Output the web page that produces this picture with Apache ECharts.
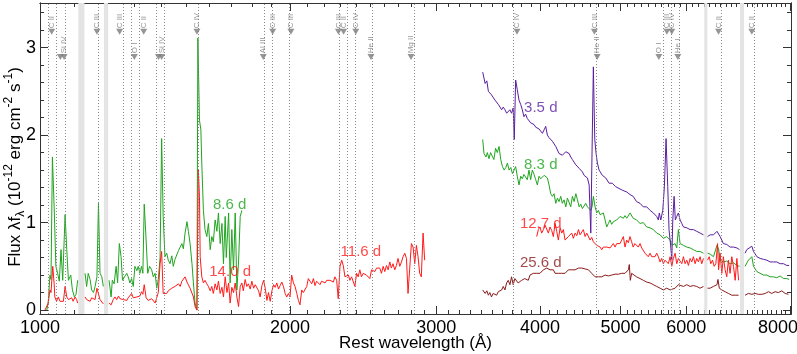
<!DOCTYPE html>
<html>
<head>
<meta charset="utf-8">
<script src="https://cdn.jsdelivr.net/npm/echarts@6/dist/echarts.min.js"></script>
<style>
html, body { margin: 0; padding: 0; background: #fff; }
#chart { width: 797px; height: 354px; }
</style>
</head>
<body>
<div id="chart"></div>
<script>
// spectra: [rest wavelength (A), flux in 1e-12 erg/cm2/s], null = masked
var uv86 = [[1019,0],[1023,0.08],[1028,0.40],[1031,0.35],[1035,1.75],[1040,1.18],[1045,0.50],[1050,0.42],[1055,0.33],[1060,0.69],[1065,0.34],[1072,1.09],[1077,0.69],[1082,0.34],[1089,0.40],[1094,0.23],[1100,0.15],[1105,0.18],[1110,0.34],[1120,null],
  [1133,0.42],[1138,0.27],[1143,0.42],[1149,0.35],[1154,0.23],[1160,0.20],[1165,0.27],[1171,0.38],[1176,1.22],[1181,0.42],[1187,0.38],[1192,0.27],[1200,null],
  [1211,0.34],[1218,0.15],[1222,0.34],[1228,0.30],[1235,0.50],[1240,0.31],[1246,0.76],[1252,0.61],[1257,0.34],[1264,0.38],[1272,0.42],[1277,0.38],[1283,0.31],[1289,0.36],[1295,0.27],[1301,0.50],[1308,0.45],[1313,0.50],[1319,0.42],[1325,0.50],[1330,0.42],[1335,1.21],[1342,0.80],[1348,0.42],[1355,0.50],[1363,0.46],[1369,0.38],[1376,0.42],[1382,0.25],[1388,0.35],[1395,0.60],[1401,1.96],[1407,1.07],[1414,0.61],[1421,0.65],[1427,0.57],[1434,0.53],[1441,0.62],[1447,0.50],[1454,0.58],[1461,0.60],[1468,0.68],[1475,0.72],[1482,0.76],[1488,0.70],[1495,0.88],[1503,1.01],[1509,0.90],[1516,0.76],[1524,0.53],[1530,0.31],[1537,0.08],[1545,0],
  [1549,3.11],[1556,2.17],[1562,2.06],[1566,1.68],[1573,1.14],[1580,0.92],[1588,0.84],[1595,0.99],[1603,0.69],[1610,0.84],[1617,0.78],[1625,1.03],[1633,0.90],[1640,1.11],[1648,0.76],[1656,0.99],[1663,0.53],[1671,1.07],[1676,0.60],[1682,0.88],[1687,1.11],[1694,0.31],[1702,0.92],[1710,0.46],[1718,1.11],[1726,0.23],[1734,0.55],[1742,1.07],[1750,1.14]];

var uv140 = [[1014,0],[1023,0.08],[1028,0.23],[1031,0.20],[1036,0.50],[1040,0.30],[1042,0.15],[1047,0.10],[1052,0.15],[1057,0.10],[1062,0.12],[1067,0.10],[1072,0.27],[1077,0.15],[1082,0.12],[1087,0.10],[1092,0.14],[1096,0.10],[1102,0.15],[1107,0.12],[1110,0.08],[1120,null],
  [1133,0.15],[1138,0.12],[1143,0.13],[1149,0.10],[1154,0.14],[1160,0.12],[1165,0.12],[1171,0.25],[1176,0.27],[1181,0.12],[1187,0.10],[1192,0.07],[1200,null],
  [1211,0.08],[1218,0.06],[1225,0.12],[1231,0.15],[1237,0.12],[1243,0.16],[1248,0.13],[1254,0.15],[1260,0.12],[1266,0.14],[1272,0.11],[1277,0.14],[1283,0.12],[1289,0.19],[1295,0.14],[1301,0.12],[1308,0.15],[1313,0.13],[1319,0.16],[1325,0.21],[1330,0.18],[1335,0.29],[1342,0.14],[1350,0.11],[1356,0.10],[1363,0.13],[1369,0.15],[1376,0.08],[1382,0.10],[1388,0.20],[1395,0.53],[1401,0.67],[1407,0.19],[1414,0.20],[1421,0.19],[1427,0.22],[1434,0.20],[1441,0.25],[1447,0.23],[1454,0.27],[1461,0.25],[1468,0.30],[1475,0.27],[1482,0.33],[1488,0.31],[1495,0.38],[1503,0.32],[1509,0.31],[1516,0.25],[1524,0.27],[1530,0.15],[1537,0.04],[1545,0],
  [1551,1.61],[1556,1.30],[1559,0.61],[1566,0.38],[1573,0.31],[1580,0.34],[1588,0.30],[1595,0.27],[1603,0.22],[1610,0.27],[1617,0.19],[1625,0.30],[1633,0.23],[1640,0.33],[1648,0.19],[1656,0.26],[1663,0.15],[1671,0.38],[1679,0.20],[1687,0.31],[1694,0.08],[1702,0.26],[1710,0.20],[1718,0.31],[1726,0.15],[1734,0.04],[1742,0.27],[1750,0.31]];

var uv116 = [[1750,0.31],[1757,0.22],[1766,0.35],[1774,0.27],[1782,0.30],[1791,0.24],[1799,0.33],[1808,0.25],[1816,0.29],[1824,0.31],[1833,0.22],[1841,0.15],[1850,0.28],[1859,0.34],[1867,0.25],[1876,0.11],[1884,0.20],[1893,0.10],[1902,0.22],[1911,0.29],[1919,0.26],[1928,0.31],[1937,0.24],[1946,0.28],[1955,0.32],[1964,0.27],[1973,0.19],[1982,0.15],[1991,0.19],[2000,0.15],
  [2009,0.40],[2019,0.31],[2028,0.27],[2038,0.19],[2047,0.11],[2056,0.06],[2066,0.23],[2075,0.20],[2085,0.22],[2095,0.27],[2104,0.36],[2114,0.34],[2124,0.30],[2134,0.36],[2143,0.28],[2153,0.33],[2163,0.34],[2173,0.29],[2183,0.33],[2194,0.34],[2204,0.31],[2214,0.34],[2224,0.32],[2234,0.34],[2244,0.34],[2255,0.32],[2265,0.38],[2276,0.34],[2286,0.13],[2297,0.50],[2308,0.57],[2318,0.51],[2329,0.38],[2340,0.36],[2351,0.40],[2361,0.34],[2372,0.38],[2383,0.40],[2394,0.27],[2405,0.42],[2416,0.38],[2427,0.46],[2438,0.38],[2450,0.42],[2461,0.44],[2472,0.40],[2484,0.42],[2495,0.36],
  [2507,0.46],[2518,0.48],[2530,0.44],[2542,0.48],[2553,0.46],[2565,0.48],[2577,0.42],[2589,0.50],[2601,0.44],[2613,0.51],[2625,0.46],[2637,0.55],[2649,0.48],[2661,0.53],[2674,0.46],[2686,0.51],[2698,0.59],[2711,0.50],[2724,0.55],[2736,0.61],[2749,0.65],[2762,0.59],[2774,0.19],[2787,0.48],[2800,0.76],[2813,0.72],[2826,0.53],[2839,0.74],[2852,0.61],[2865,0.42],[2878,0.38],[2892,0.88],[2905,0.57]];

var opt35 = [[3412,2.72],[3435,2.59],[3451,2.62],[3466,2.50],[3480,2.52],[3496,2.46],[3512,2.47],[3530,2.40],[3546,2.38],[3563,2.35],[3579,2.36],[3596,2.29],[3612,2.32],[3629,2.29],[3646,2.25],[3662,2.27],[3679,2.29],[3696,2.25],[3713,2.31],[3724,1.95],[3738,2.63],[3755,2.52],[3773,2.40],[3791,2.35],[3808,2.29],[3825,2.21],[3843,2.24],[3861,2.19],[3879,2.17],[3897,2.14],[3915,2.15],[3934,2.12],[3952,2.09],[3970,2.10],[3989,2.07],[4007,2.08],[4026,2.02],[4045,2.06],[4063,2.10],[4082,2.00],[4101,1.97],[4120,1.95],[4139,1.93],[4158,1.91],[4178,1.87],[4197,1.85],[4216,1.79],[4236,1.80],[4255,1.77],[4275,1.79],[4296,1.81],[4315,1.79],[4335,1.79],[4355,1.75],[4375,1.72],[4396,1.70],[4417,1.66],[4437,1.64],[4458,1.62],[4478,1.60],[4498,1.58],[4519,1.54],[4540,1.53],[4561,1.51],[4583,1.43],[4604,0.88],[4620,0.90],[4637,2.78],[4655,1.95],[4672,1.79],[4689,1.68],[4711,1.60],[4733,1.58],[4754,1.54],[4776,1.53],[4799,1.51],[4821,1.49],[4843,1.45],[4865,1.46],[4887,1.45],[4909,1.43],[4933,1.41],[4955,1.40],[4979,1.39],[5002,1.37],[5025,1.37],[5048,1.36],[5086,1.35],[5133,1.32],[5178,1.30],[5226,1.24],[5278,1.22],[5326,1.18],[5375,1.18],[5426,1.14],[5476,1.11],[5527,1.07],[5552,1.03],[5567,1.11],[5590,1.03],[5621,1.14],[5646,1.41],[5672,1.96],[5699,1.41],[5719,0.92],[5747,0.72],[5763,0.57],[5779,1.03],[5800,1.30],[5820,1.03],[5843,1.07],[5869,1.11],[5897,1.03],[5925,0.99],[5952,0.95],[5980,0.96],[6008,0.94],[6035,0.95],[6063,0.92],[6119,0.92],[6176,0.90],[6233,0.88],[6292,0.86],[6330,null],
  [6364,0.84],[6409,0.86],[6469,0.86],[6532,0.90],[6561,0.92],[6589,0.84],[6620,0.80],[6649,0.76],[6712,0.75],[6774,0.72],[6838,0.72],[6903,0.71],[6954,0.69],[7000,null],
  [7061,0.65],[7094,0.69],[7127,0.70],[7195,0.73],[7228,0.67],[7297,0.61],[7362,0.59],[7432,0.58],[7502,0.57],[7569,0.55],[7639,0.55],[7710,0.55],[7782,0.53],[7855,0.53],[7927,0.51],[7979,0.51]];

var opt83 = [[3412,1.95],[3424,1.79],[3443,1.75],[3456,1.80],[3472,1.73],[3487,1.80],[3502,1.81],[3519,1.72],[3536,1.85],[3553,1.80],[3570,1.87],[3587,1.72],[3604,1.64],[3621,1.60],[3638,1.63],[3654,1.68],[3671,1.60],[3688,1.63],[3705,1.56],[3722,1.60],[3738,1.64],[3755,1.53],[3773,1.43],[3791,1.53],[3808,1.50],[3825,1.55],[3843,1.56],[3861,1.49],[3879,1.60],[3897,1.49],[3915,1.60],[3934,1.55],[3952,1.49],[3970,1.43],[3989,1.53],[4007,1.50],[4026,1.52],[4045,1.54],[4063,1.56],[4082,1.51],[4101,1.43],[4120,1.33],[4139,1.30],[4158,1.33],[4178,1.22],[4197,1.28],[4216,1.24],[4236,1.30],[4255,1.22],[4275,1.26],[4296,1.18],[4315,1.28],[4335,1.26],[4355,1.18],[4375,1.30],[4396,1.24],[4417,1.33],[4437,1.26],[4458,1.18],[4478,1.21],[4498,1.16],[4519,1.18],[4540,1.22],[4561,1.18],[4583,1.20],[4604,1.14],[4620,1.18],[4637,1.30],[4659,1.18],[4681,1.11],[4702,1.14],[4724,1.09],[4746,1.07],[4767,1.11],[4790,1.03],[4812,0.95],[4834,0.99],[4856,1.03],[4878,0.98],[4901,1.01],[4924,0.99],[4947,1.03],[4970,1.01],[4993,1.07],[5016,1.09],[5039,1.05],[5062,1.08],[5086,1.05],[5133,1.11],[5178,1.05],[5226,1.03],[5278,0.99],[5326,1.00],[5375,0.95],[5426,0.94],[5476,0.92],[5527,0.88],[5579,0.86],[5630,0.82],[5683,0.84],[5736,0.80],[5763,0.74],[5788,0.72],[5816,0.76],[5843,0.71],[5869,0.92],[5897,0.76],[5952,0.74],[6008,0.72],[6063,0.71],[6119,0.69],[6176,0.67],[6233,0.67],[6292,0.65],[6330,null],
  [6364,0.65],[6409,0.64],[6469,0.61],[6532,0.74],[6561,0.70],[6589,0.57],[6649,0.55],[6712,0.56],[6774,0.53],[6838,0.54],[6903,0.51],[6954,0.50],[7000,null],
  [7061,0.50],[7127,0.57],[7195,0.61],[7228,0.50],[7297,0.44],[7362,0.42],[7432,0.40],[7502,0.40],[7569,0.38],[7639,0.38],[7710,0.37],[7782,0.39],[7818,0.40],[7855,0.36],[7927,0.36],[7979,0.35]];

var opt127 = [[3963,0.84],[3981,0.92],[3999,0.95],[4018,0.88],[4037,0.92],[4056,0.97],[4075,0.99],[4093,0.88],[4112,0.95],[4131,0.91],[4150,0.84],[4170,0.99],[4189,0.90],[4208,0.80],[4228,0.94],[4248,0.88],[4267,0.92],[4287,0.80],[4307,0.78],[4327,0.84],[4347,0.86],[4367,0.88],[4387,0.82],[4408,0.88],[4429,0.85],[4449,0.92],[4469,0.86],[4490,0.88],[4510,0.92],[4532,0.84],[4553,0.88],[4574,0.86],[4595,0.80],[4616,0.83],[4637,0.78],[4659,0.76],[4681,0.74],[4702,0.76],[4724,0.72],[4746,0.69],[4767,0.72],[4790,0.71],[4812,0.72],[4834,0.74],[4856,0.71],[4878,0.72],[4901,0.76],[4924,0.72],[4947,0.76],[4970,0.78],[4993,0.76],[5016,0.80],[5039,0.84],[5062,0.72],[5086,0.80],[5109,0.77],[5133,0.84],[5156,0.78],[5178,0.72],[5202,0.76],[5226,0.74],[5252,0.72],[5278,0.76],[5302,0.71],[5326,0.69],[5351,0.65],[5375,0.67],[5399,0.61],[5426,0.65],[5451,0.61],[5476,0.63],[5501,0.61],[5527,0.65],[5552,0.61],[5579,0.55],[5604,0.59],[5630,0.53],[5656,0.57],[5683,0.59],[5708,0.53],[5736,0.61],[5763,0.50],[5788,0.59],[5816,0.65],[5843,0.53],[5869,0.59],[5897,0.57],[5925,0.53],[5952,0.61],[5980,0.53],[6008,0.57],[6035,0.51],[6063,0.59],[6091,0.55],[6119,0.61],[6148,0.53],[6176,0.59],[6205,0.55],[6233,0.61],[6262,0.53],[6292,0.59],[6330,null],
  [6364,0.57],[6393,0.61],[6421,0.53],[6451,0.57],[6482,0.50],[6512,0.53],[6543,0.76],[6561,0.46],[6589,0.65],[6620,0.42],[6649,0.61],[6681,0.46],[6712,0.38],[6742,0.57],[6774,0.42],[6806,0.61],[6838,0.50],[6870,0.34],[6903,0.59],[6935,0.34]];

var opt256 = [[3412,0.23],[3435,0.19],[3451,0.22],[3466,0.17],[3480,0.20],[3496,0.15],[3512,0.19],[3530,0.21],[3546,0.17],[3563,0.21],[3579,0.19],[3596,0.23],[3612,0.27],[3629,0.23],[3646,0.31],[3662,0.34],[3679,0.29],[3696,0.38],[3713,0.29],[3730,0.36],[3747,0.34],[3764,0.31],[3784,0.33],[3801,0.34],[3817,0.35],[3834,0.36],[3854,0.38],[3871,0.34],[3890,0.40],[3908,0.38],[3926,0.42],[3944,0.40],[3963,0.42],[3981,0.44],[3999,0.42],[4018,0.44],[4037,0.46],[4056,0.44],[4075,0.48],[4093,0.46],[4112,0.46],[4131,0.48],[4150,0.46],[4170,0.42],[4189,0.44],[4208,0.42],[4228,0.44],[4248,0.42],[4267,0.44],[4287,0.42],[4307,0.44],[4327,0.46],[4347,0.44],[4367,0.46],[4387,0.48],[4408,0.46],[4429,0.47],[4449,0.48],[4469,0.46],[4490,0.48],[4510,0.46],[4532,0.47],[4553,0.48],[4574,0.46],[4595,0.44],[4616,0.42],[4637,0.40],[4659,0.38],[4681,0.40],[4702,0.38],[4724,0.39],[4746,0.38],[4767,0.39],[4790,0.40],[4812,0.38],[4834,0.39],[4856,0.40],[4878,0.40],[4901,0.40],[4924,0.41],[4947,0.42],[4970,0.41],[4993,0.42],[5016,0.42],[5039,0.44],[5062,0.42],[5086,0.42],[5109,0.46],[5123,0.52],[5137,0.34],[5156,0.42],[5178,0.40],[5226,0.38],[5278,0.36],[5326,0.34],[5375,0.32],[5426,0.31],[5476,0.29],[5527,0.27],[5579,0.25],[5630,0.23],[5683,0.25],[5736,0.23],[5763,0.21],[5816,0.25],[5843,0.27],[5869,0.29],[5897,0.28],[5952,0.27],[6008,0.29],[6063,0.27],[6119,0.28],[6176,0.27],[6233,0.25],[6292,0.27],[6330,null],
  [6364,0.25],[6409,0.25],[6469,0.27],[6532,0.29],[6550,0.35],[6574,0.25],[6620,0.23],[6681,0.21],[6742,0.19],[6806,0.17],[6870,0.17],[6935,0.17],[7000,null],
  [7061,0.17],[7127,0.19],[7195,0.18],[7262,0.19],[7328,0.18],[7397,0.18],[7467,0.19],[7536,0.21],[7604,0.19],[7674,0.21],[7746,0.20],[7818,0.22],[7891,0.19],[7963,0.18]];

// spectral line identifications: upper row and lower row
var lineUpperWave = [1033, 1171, 1247, 1333, 1545, 1906, 2005, 2287, 2320, 2400, 3752, 4650, 5685, 5763, 6561, 7195];
var lineUpperName = ['C II', 'C III', 'C III', 'C II', 'C IV', 'C III', 'C III', 'C III', 'C II', 'C IV', 'C IV', 'C III', 'C III', 'C IV', 'C II', 'C II'];
var lineLowerWave = [1058, 1069, 1299, 1389, 1401, 1857, 2503, 2797, 4686, 5560, 5860];
var lineLowerName = ['', 'Si IV', 'O I', '', 'Si IV', 'Al III', 'He II', 'Mg II', 'He II', 'O I', 'He I'];

// masked regions
var bandStart = [1112, 1194, 6306, 6963];
var bandEnd = [1131, 1208, 6359, 7041];

// epoch labels: [wavelength, flux, text, colour]
var tags = [
  [1692, 1.20, '8.6 d', '#1fa51f'],
  [1694, 0.44, '14.0 d', '#ff1a1a'],
  [2434, 0.66, '11.6 d', '#ff1a1a'],
  [4008, 2.31, '3.5 d', '#5a1e9e'],
  [4008, 1.66, '8.3 d', '#1fa51f'],
  [4008, 0.99, '12.7 d', '#ff1a1a'],
  [4008, 0.54, '25.6 d', '#8b1a1a']
];

var xMajor = [1000, 2000, 3000, 4000, 5000, 6000, 7000, 8000];
var xLabels = [1000, 2000, 3000, 4000, 5000, 6000, 8000];
var yMajor = [0, 1, 2, 3];

var FONT = '"Liberation Sans", Arial, Helvetica, sans-serif';
var AXIS_COLOR = '#333';

function lg(w) { return Math.log(w) / Math.LN10; }

function toLine(spec) {
  return spec.map(function (p) { return [lg(p[0]), p[1] == null ? '-' : p[1]]; });
}

var xMinor = [];
for (var w = 1100; w < 8000; w += 100) {
  if (w % 1000 != 0) xMinor.push(w);
}
var yMinor = [];
for (var k = 1; k <= 17; k++) {
  if (k % 5 != 0) yMinor.push(k * 0.2);
}

var X_MIN = lg(1000), X_MAX = lg(8020);
var Y_MIN = -0.045, Y_MAX = 3.51;
var Y_UP_TRI = 3.18, Y_UP_TXT = 3.22, Y_LO_TRI = 2.894, Y_LO_TXT = 2.935;

function xAx(pos, ticks, len, labels) {
  return {
    type: 'value', gridIndex: 0, position: pos, min: X_MIN, max: X_MAX,
    axisLine: { show: true, onZero: false, lineStyle: { color: AXIS_COLOR, width: 1 } },
    axisTick: { show: true, inside: true, length: len, customValues: ticks.map(lg), lineStyle: { color: AXIS_COLOR } },
    axisLabel: labels ? {
      show: true, customValues: labels.map(lg), margin: 5,
      formatter: function (v) {
        var n = Math.round(Math.pow(10, v));
        return n == 8000 ? '{r|' + n + '}' : String(n);
      },
      rich: { r: { fontSize: 18, color: '#000', fontFamily: FONT, padding: [0, 24, 0, 0] } },
      fontSize: 18, color: '#000', fontFamily: FONT
    } : { show: false },
    splitLine: { show: false }
  };
}

function yAx(pos, ticks, len, labels) {
  return {
    type: 'value', gridIndex: 0, position: pos, min: Y_MIN, max: Y_MAX,
    axisLine: { show: true, onZero: false, lineStyle: { color: AXIS_COLOR, width: 1 } },
    axisTick: { show: true, inside: true, length: len, customValues: ticks, lineStyle: { color: AXIS_COLOR } },
    axisLabel: labels ? {
      show: true, customValues: labels, margin: 4,
      fontSize: 18, color: '#000', fontFamily: FONT
    } : { show: false },
    splitLine: { show: false }
  };
}

var xAxes = [xAx('bottom', xMajor, 8, xLabels), xAx('bottom', xMinor, 4, null), xAx('top', xMajor, 8, null), xAx('top', xMinor, 4, null)];
xAxes[0].name = 'Rest wavelength (Å)';
xAxes[0].nameLocation = 'middle';
xAxes[0].nameGap = 21;
xAxes[0].nameMoveOverlap = false;
xAxes[0].nameTextStyle = { fontSize: 17, color: '#000', fontFamily: FONT };

var yAxes = [yAx('left', yMajor, 8, yMajor), yAx('left', yMinor, 4, null), yAx('right', yMajor, 8, null), yAx('right', yMinor, 4, null)];
yAxes[0].name = '{a|Flux λf}{b|λ}{a| (10}{c|-12}{a| erg cm}{c|-2}{a| s}{c|-1}{a|)}';
yAxes[0].nameLocation = 'middle';
yAxes[0].nameGap = 13;
yAxes[0].nameMoveOverlap = false;
yAxes[0].nameTextStyle = {
  color: '#000', fontFamily: FONT, padding: [0, 17, 0, 0],
  rich: {
    a: { fontSize: 17, lineHeight: 24, color: '#000', fontFamily: FONT },
    b: { fontSize: 12, lineHeight: 12, verticalAlign: 'bottom', color: '#000', fontFamily: FONT },
    c: { fontSize: 12, lineHeight: 12, verticalAlign: 'top', color: '#000', fontFamily: FONT }
  }
};

var allLineWaves = lineUpperWave.concat(lineLowerWave);

function specSeries(name, spec, color) {
  return {
    name: name, type: 'line', xAxisIndex: 0, yAxisIndex: 0, z: 3,
    data: toLine(spec), showSymbol: false, connectNulls: false,
    lineStyle: { color: color, width: 1 }, itemStyle: { color: color },
    silent: true
  };
}

var triData = [];
lineUpperWave.forEach(function (w) { triData.push([lg(w), Y_UP_TRI]); });
lineLowerWave.forEach(function (w) { triData.push([lg(w), Y_LO_TRI]); });

var txtData = [];
lineUpperWave.forEach(function (w, i) { txtData.push([lg(w), Y_UP_TXT, lineUpperName[i]]); });
lineLowerWave.forEach(function (w, i) { if (lineLowerName[i]) txtData.push([lg(w), Y_LO_TXT, lineLowerName[i]]); });

var tagData = tags.map(function (t) {
  return { value: [lg(t[0]), t[1], t[2]], label: { color: t[3] } };
});

var option = {
  animation: false,
  backgroundColor: '#fff',
  grid: { left: 40, right: 6, top: 3, bottom: 40, containLabel: false, outerBoundsMode: 'none' },
  xAxis: xAxes,
  yAxis: yAxes,
  series: [
    {
      name: 'guides', type: 'line', xAxisIndex: 0, yAxisIndex: 0, z: 1,
      data: [[lg(1000), -5]], showSymbol: false, lineStyle: { width: 0 }, silent: true,
      markArea: {
        silent: true,
        itemStyle: { color: '#e4e4e4' },
        data: bandStart.map(function (a, i) { return [{ xAxis: lg(a) }, { xAxis: lg(bandEnd[i]) }]; })
      },
      markLine: {
        silent: true, symbol: ['none', 'none'], label: { show: false },
        lineStyle: { type: [1, 2], color: '#8a8a8a', width: 1 },
        data: allLineWaves.map(function (w) { return { xAxis: lg(w) }; })
      }
    },
    specSeries('8.6 d', uv86, '#1fa51f'),
    specSeries('14.0 d', uv140, '#ff1a1a'),
    specSeries('11.6 d', uv116, '#ff1a1a'),
    specSeries('8.3 d', opt83, '#1fa51f'),
    specSeries('12.7 d', opt127, '#ff1a1a'),
    specSeries('25.6 d', opt256, '#8b1a1a'),
    specSeries('3.5 d', opt35, '#5a1e9e'),
    {
      name: 'markers', type: 'scatter', xAxisIndex: 0, yAxisIndex: 0, z: 5, silent: true,
      data: triData, symbol: 'triangle', symbolRotate: 180, symbolSize: [7, 6],
      itemStyle: { color: '#7a7a7a' }
    },
    {
      name: 'ids', type: 'scatter', xAxisIndex: 0, yAxisIndex: 0, z: 5, silent: true,
      data: txtData, symbol: 'circle', symbolSize: 1, itemStyle: { color: 'rgba(0,0,0,0)' },
      label: {
        show: true, position: 'inside', rotate: 90, align: 'left', verticalAlign: 'middle',
        formatter: function (p) { return p.data[2]; },
        fontSize: 8, color: '#7a7a7a', fontFamily: FONT
      }
    },
    {
      name: 'epochs', type: 'scatter', xAxisIndex: 0, yAxisIndex: 0, z: 6, silent: true,
      data: tagData, symbol: 'circle', symbolSize: 1, itemStyle: { color: 'rgba(0,0,0,0)' },
      label: {
        show: true, position: 'inside',
        formatter: function (p) { return p.data.value[2]; },
        fontSize: 15, fontFamily: FONT
      }
    }
  ]
};

var chart = echarts.init(document.getElementById('chart'));
chart.setOption(option);
</script>
</body>
</html>
